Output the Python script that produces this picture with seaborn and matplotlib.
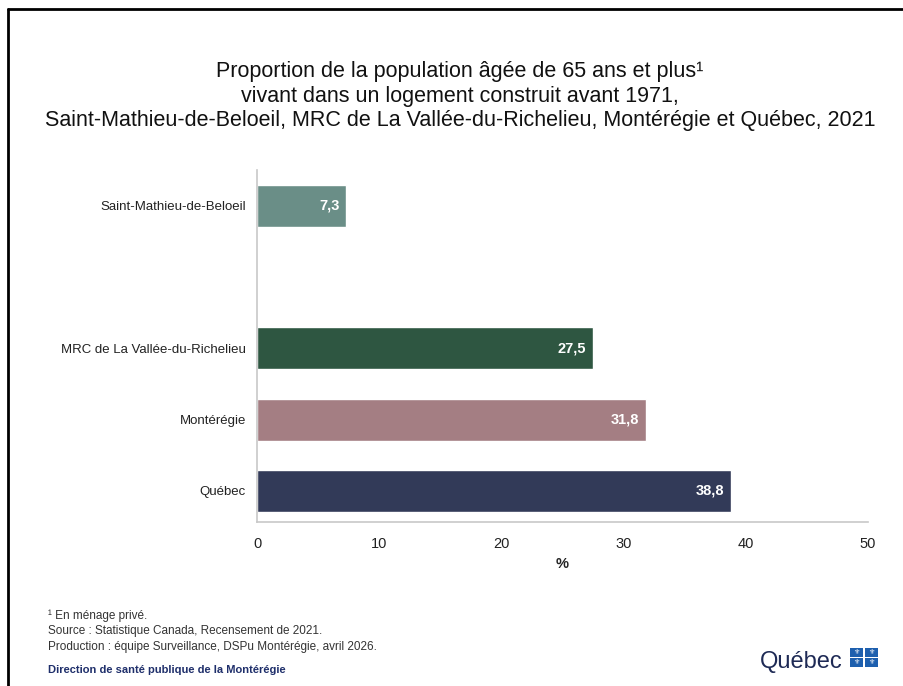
import numpy as np
import pandas as pd
import matplotlib.pyplot as plt
import matplotlib.patches as mpatches
from matplotlib.lines import Line2D
import seaborn as sns

territoires = ['Saint-Mathieu-de-Beloeil', 'MRC de La Vallée-du-Richelieu', 'Montérégie', 'Québec']
valeurs = [7.3, 27.5, 31.8, 38.8]
couleurs = ['#6A8E87', '#2E5641', '#A47E83', '#323A58']
ordre = ['Saint-Mathieu-de-Beloeil', ' ', 'MRC de La Vallée-du-Richelieu', 'Montérégie', 'Québec']
graduations = [0, 10, 20, 30, 40, 50]

df = pd.DataFrame({'territoire': territoires, 'valeur': valeurs})

sns.set_style('white')
plt.rcParams['font.family'] = ['Liberation Sans', 'DejaVu Sans']

fig = plt.figure(figsize=(9.04, 6.86), dpi=100)
ax = fig.add_axes([0.2843, 0.2391, 0.6759, 0.5131])

sns.barplot(data=df, x='valeur', y='territoire', hue='territoire', order=ordre,
            palette=dict(zip(territoires, couleurs)), legend=False, width=0.59,
            orient='h', ax=ax, saturation=1)

pos = {t: i for i, t in enumerate(ordre)}
for t, v in zip(territoires, valeurs):
    ax.text(v - 0.55, pos[t], f"{v:.1f}".replace('.', ','), color='white',
            ha='right', va='center', fontsize=10.5, fontweight='bold')

ax.set_xlim(0, 50)
ax.set_ylim(4.435, -0.505)
ax.set_xticks(graduations)
ax.set_xticklabels([str(g) for g in graduations], fontsize=10.5, color='#222222')
ax.set_xlabel('%', fontsize=10.5, fontweight='bold', color='#222222', labelpad=4)
ax.set_ylabel('')
ax.tick_params(axis='y', length=0, pad=8, labelsize=9.5, labelcolor='#222222')
ax.tick_params(axis='x', length=5, width=1, color='#BFBFBF', direction='out', pad=6)

for s in ['top', 'right']:
    ax.spines[s].set_visible(False)
for s in ['left', 'bottom']:
    ax.spines[s].set_color('#C8C8C8')
    ax.spines[s].set_linewidth(1.2)

fig.text(0.509, 0.860,
         'Proportion de la population âgée de 65 ans et plus¹\n'
         'vivant dans un logement construit avant 1971,\n'
         'Saint-Mathieu-de-Beloeil, MRC de La Vallée-du-Richelieu, Montérégie et Québec, 2021',
         ha='center', va='center', fontsize=15.5, color='#111111', linespacing=1.22)

fig.text(0.053, 0.080,
         '¹ En ménage privé.\n'
         'Source : Statistique Canada, Recensement de 2021.\n'
         'Production : équipe Surveillance, DSPu Montérégie, avril 2026.',
         ha='left', va='center', fontsize=8.5, color='#333333', linespacing=1.4)
fig.text(0.053, 0.023, 'Direction de santé publique de la Montérégie',
         ha='left', va='center', fontsize=8, color='#1F2F6B', fontweight='bold')

# logo
fig.text(0.932, 0.026, 'Québec', ha='right', va='baseline', fontsize=17, color='#1E2A55')
for dx in (0, 1):
    for dy in (0, 1):
        x0 = (850 + dx * 15) / 904
        y0 = 1 - (667 - dy * 10) / 686
        fig.patches.append(mpatches.Rectangle((x0, y0), 13 / 904, 9 / 686,
                                              transform=fig.transFigure,
                                              facecolor='#1D5FAE', edgecolor='none'))
        fig.text(x0 + 6.5 / 904, y0 + 4.5 / 686, '⚜', ha='center', va='center',
                 fontsize=5, color='white', family='DejaVu Sans')

# cadre
fig.lines.append(Line2D([8 / 904, 8 / 904], [0, 1 - 9 / 686], transform=fig.transFigure,
                        color='black', linewidth=2))
fig.lines.append(Line2D([8 / 904, 1], [1 - 9 / 686, 1 - 9 / 686], transform=fig.transFigure,
                        color='black', linewidth=2))

fig.savefig('out.png', dpi=100)
